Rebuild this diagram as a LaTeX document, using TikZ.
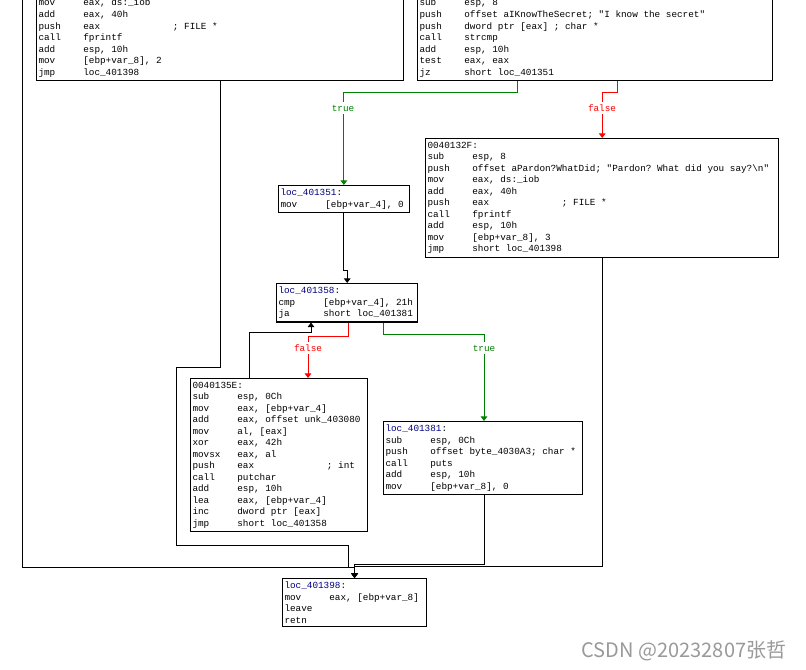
\documentclass[tikz,border=0pt]{standalone}
\usepackage{fontspec}
\usetikzlibrary{arrows.meta}
\newfontfamily\asmfont{Liberation Mono}
\newfontfamily\wmfont{Noto Sans CJK SC}
\definecolor{idanavy}{RGB}{0,0,128}
\definecolor{idagreen}{RGB}{0,128,0}
\definecolor{idared}{RGB}{255,0,0}
\newlength\mnw
\newlength\opw
\newcommand\asm{\asmfont\fontsize{7}{8.65}\selectfont\frenchspacing}
\newcommand\mn[1]{\makebox[\mnw][l]{#1}}
\newcommand\cmt[2]{\makebox[\opw][l]{#1}#2}
\newcommand\loclbl[1]{\textcolor{idanavy}{#1}:}
\begin{document}
\settowidth\mnw{\asm 00000000}
\settowidth\opw{\asm 0000000000000000}
\begin{tikzpicture}[x=0.75pt,y=-0.75pt,
    blk/.style={draw,line width=0.8pt,fill=white,anchor=north west,inner xsep=1.5pt,inner ysep=2.5pt,align=flush left,font=\asm},
    flow/.style={line width=0.75pt,-{Triangle[width=5pt,length=3.5pt]}},
    tflow/.style={flow,draw=idagreen},
    fflow/.style={flow,draw=idared},
    tlbl/.style={fill=white,inner xsep=1pt,inner ysep=2pt,font=\asm,text=idagreen},
    flbl/.style={tlbl,text=idared}]
  \useasboundingbox (0,0) rectangle (806,670);

  \node [blk,anchor=south west,text width=272pt] (tl) at (36,81) {%
    \mn{mov}eax, ds:\_iob\\
    \mn{add}eax, 40h\\
    \mn{push}\cmt{eax}{; FILE *}\\
    \mn{call}fprintf\\
    \mn{add}esp, 10h\\
    \mn{mov}[ebp+var\_8], 2\\
    \mn{jmp}loc\_401398};
  \node [blk,anchor=south west,text width=263pt] (tr) at (417,81) {%
    \mn{sub}esp, 8\\
    \mn{push}offset aIKnowTheSecret; "I know the secret"\\
    \mn{push}\cmt{dword ptr [eax]}{; char *}\\
    \mn{call}strcmp\\
    \mn{add}esp, 10h\\
    \mn{test}eax, eax\\
    \mn{jz}short loc\_401351};
  \node [blk,text width=95pt] (l351) at (278,185) {%
    \loclbl{loc\_401351}\\
    \mn{mov}[ebp+var\_4], 0};
  \node [blk,text width=262pt] (l32f) at (425,138) {%
    0040132F:\\
    \mn{sub}esp, 8\\
    \mn{push}offset aPardon?WhatDid; "Pardon? What did you say?\textbackslash n"\\
    \mn{mov}eax, ds:\_iob\\
    \mn{add}eax, 40h\\
    \mn{push}\cmt{eax}{; FILE *}\\
    \mn{call}fprintf\\
    \mn{add}esp, 10h\\
    \mn{mov}[ebp+var\_8], 3\\
    \mn{jmp}short loc\_401398};
  \node [blk,text width=103pt] (l358) at (276,283) {%
    \loclbl{loc\_401358}\\
    \mn{cmp}[ebp+var\_4], 21h\\
    \mn{ja}short loc\_401381};
  \node [blk,text width=130pt] (l35e) at (190,378) {%
    0040135E:\\
    \mn{sub}esp, 0Ch\\
    \mn{mov}eax, [ebp+var\_4]\\
    \mn{add}eax, offset unk\_403080\\
    \mn{mov}al, [eax]\\
    \mn{xor}eax, 42h\\
    \mn{movsx}eax, al\\
    \mn{push}\cmt{eax}{; int}\\
    \mn{call}putchar\\
    \mn{add}esp, 10h\\
    \mn{lea}eax, [ebp+var\_4]\\
    \mn{inc}dword ptr [eax]\\
    \mn{jmp}short loc\_401358};
  \node [blk,text width=146pt] (l381) at (383,421) {%
    \loclbl{loc\_401381}\\
    \mn{sub}esp, 0Ch\\
    \mn{push}offset byte\_4030A3; char *\\
    \mn{call}puts\\
    \mn{add}esp, 10h\\
    \mn{mov}[ebp+var\_8], 0};
  \node [blk,text width=105pt] (l398) at (282,578) {%
    \loclbl{loc\_401398}\\
    \mn{mov}eax, [ebp+var\_8]\\
    \mn{leave}\\
    \mn{retn}};

  \coordinate (offl) at (22,-10);

  \draw [tflow] (tr.south -| 517,0) -- ++(0,12) -| (l351);
  \draw [fflow] (tr.south -| 617,0) -- ++(0,12) -| (l32f);
  \draw [flow] (l351.south) -- ++(0,58) -| (l358);
  \draw [fflow] (l358.south -| 348,0) -- ++(0,14) -| (l35e.north -| 308,0);
  \draw [tflow] (l358.south -| 383,0) -- ++(0,12) -| (l381.north -| 484,0);
  \draw [flow] (l35e.north -| 249,0) |- (311,332) -- (l358.south -| 311,0);
  \draw [flow] (offl) |- (l398.north |- 0,567) -- (l398);
  \draw [flow] (tl.south -| 220,0) -- (220,367) -- (176,367) |- (348,545) -- (348,567) -| (l398);
  \draw [flow] (l381.south -| 484,0) |- (l398.north |- 0,564) -- (l398);
  \draw [flow] (l32f.south -| 602,0) |- (l398.north |- 0,566) -- (l398);

  \node [tlbl] (t1) at (343,108) {true};
  \node [flbl] (f1) at (602,108) {false};
  \node [flbl] (f2) at (308,348) {false};
  \node [tlbl] (t2) at (484,348) {true};

  \node [text=black!40,font=\wmfont\fontsize{15}{18}\selectfont,anchor=east] (wm) at (791,651) {CSDN @20232807张哲};
\end{tikzpicture}
\end{document}
